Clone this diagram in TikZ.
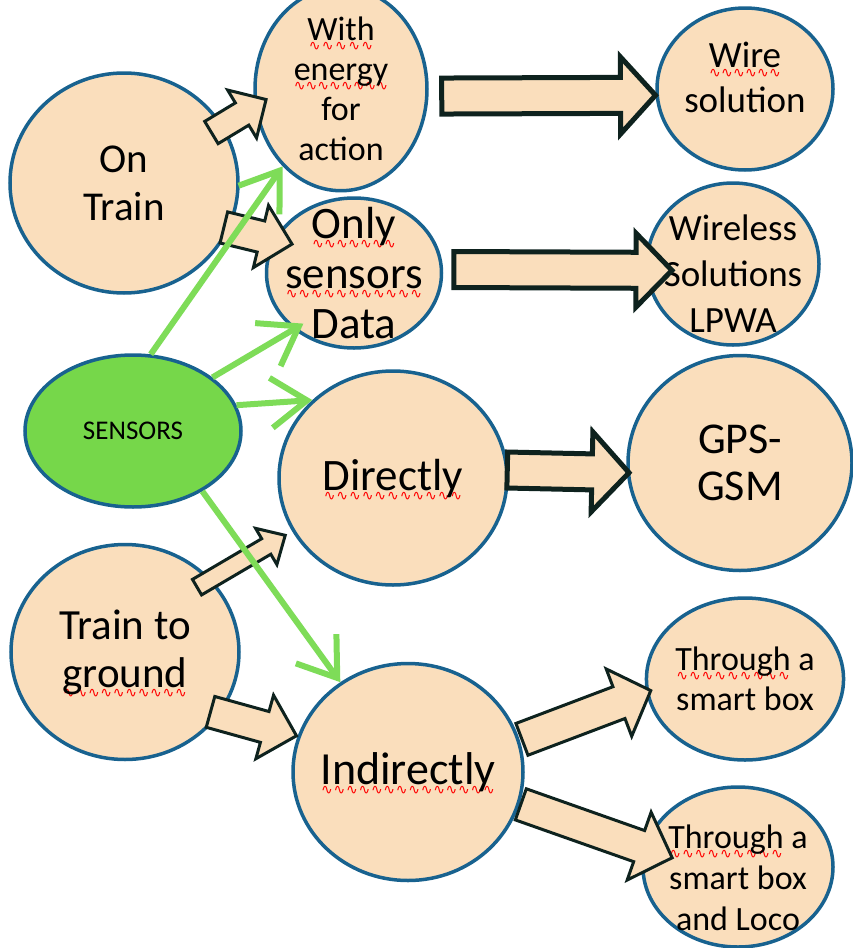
\documentclass[tikz,border=0pt]{standalone}
\usepackage{fontspec}
\setmainfont{Carlito}
\newfontfamily\wavefont{DejaVu Sans}
\usetikzlibrary{shapes.geometric, calc, arrows.meta}

\definecolor{peach}{RGB}{250,222,188}
\definecolor{rim}{RGB}{24,98,143}
\definecolor{leaf}{RGB}{118,215,74}
\definecolor{lime}{RGB}{126,220,88}
\definecolor{ink}{RGB}{14,34,30}

\tikzstyle{bubble}=[ellipse, draw=rim, line width=3.5pt, fill=peach, inner sep=0pt, align=center]
\tikzstyle{source}=[bubble, fill=leaf]
\tikzstyle{caption}=[inner sep=0pt, align=center]
\tikzstyle{feed}=[-{Straight Barb[length=36pt,width=50pt]}, draw=lime, line width=6pt]
\tikzstyle{blockarrow}=[draw=ink, fill=peach, line width=3pt, line join=miter]
\tikzstyle{widearrow}=[line width=5pt]

% red spell-check squiggle
\newcommand{\typo}[1]{\setbox0=\hbox{#1}\rlap{\raisebox{-10pt}[0pt][0pt]{\color{red}\wavefont\fontsize{14}{14}\selectfont\hbox to\wd0{\xleaders\hbox{∿}\hfil}}}\box0\relax}

% [style]{tail}{tip}{shaft}{head}{head length}
\newcommand{\blockarrow}[6][]{%
  \coordinate (ba-t) at (#2);
  \coordinate (ba-p) at (#3);
  \coordinate (ba-b) at ($(ba-p)!#6!(ba-t)$);
  \draw[blockarrow,#1] ($(ba-t)!#4/2!90:(ba-p)$) -- ($(ba-b)!#4/2!90:(ba-p)$)
    -- ($(ba-b)!#5/2!90:(ba-p)$) -- (ba-p) -- ($(ba-b)!#5/2!-90:(ba-p)$)
    -- ($(ba-b)!#4/2!-90:(ba-p)$) -- ($(ba-t)!#4/2!-90:(ba-p)$) -- cycle;
}

\begin{document}
\begin{tikzpicture}[x=1pt, y=-1pt]
  \useasboundingbox (0,0) rectangle (853,948);

  \node[bubble, minimum width=228pt, minimum height=220pt, font=\fontsize{41}{48}\selectfont] (onTrain) at (124,183) {On\\Train};
  \node[bubble, minimum width=172pt, minimum height=162pt, font=\fontsize{34}{40}\selectfont] (energy) at (341,89) {\typo{With}\\\typo{energy}\\for\\action};
  \node[bubble, minimum width=175pt, minimum height=150pt] (sensData) at (354,273) {};
  \node[caption, font=\fontsize{45}{50}\selectfont] (sensDataText) at (sensData) {\typo{Only}\\\typo{sensors}\\Data};
  \node[bubble, minimum width=176pt, minimum height=162pt] (wire) at (745,89) {};
  \node[caption, font=\fontsize{37}{45}\selectfont] (wireText) at ($(wire)+(0,-12)$) {\typo{Wire}\\solution};
  \node[bubble, minimum width=172pt, minimum height=162pt] (wireless) at (733,264) {};
  \node[caption, font=\fontsize{37}{46}\selectfont] (wirelessText) at ($(wireless)+(0,10)$) {Wireless\\Solutions\\LPWA};
  \node[source, minimum width=216pt, minimum height=152pt, font=\fontsize{27}{32}\selectfont] (sensors) at (133,431) {SENSORS};
  \node[bubble, minimum width=228pt, minimum height=214pt, font=\fontsize{45}{52}\selectfont] (directly) at (393,478) {\typo{Directly}};
  \node[bubble, minimum width=224pt, minimum height=215pt, font=\fontsize{44}{47}\selectfont] (gps) at (740,463) {GPS-\\GSM};
  \node[bubble, minimum width=228pt, minimum height=215pt, font=\fontsize{43}{48}\selectfont] (ground) at (125,652) {Train to\\\typo{ground}};
  \node[bubble, minimum width=230pt, minimum height=217pt] (indirectly) at (408,772) {};
  \node[caption, font=\fontsize{46}{52}\selectfont] (indirectlyText) at (indirectly) {\typo{Indirectly}};
  \node[bubble, minimum width=176pt, minimum height=162pt, font=\fontsize{34}{40}\selectfont] (smartBox) at (745,679) {\typo{Through} a\\smart box};
  \node[bubble, minimum width=190pt, minimum height=160pt] (smartLoco) at (738,867) {};
  \node[caption, font=\fontsize{34}{41}\selectfont] (smartLocoText) at ($(smartLoco)+(0,11)$) {\typo{Through} a\\smart box\\and Loco};

  \blockarrow{$(onTrain)!.88!(onTrain.30)$}{$(energy)!.86!(energy.188)$}{26pt}{56pt}{28pt}
  \blockarrow{$(onTrain)!.95!(onTrain.-24)$}{$(sensData)!.79!(sensData.155)$}{32pt}{64pt}{32pt}
  \blockarrow[widearrow]{$(energy)!1.15!(energy.-4)$}{wire.184}{36pt}{77pt}{35pt}
  \blockarrow[widearrow]{$(sensData)!1.12!(sensData.2)$}{$(wireless)!.70!(wireless.186)$}{36pt}{74pt}{36pt}
  \blockarrow[widearrow]{$(directly)!.99!(directly.4)$}{$(gps)!.98!(gps.185)$}{36pt}{80pt}{37pt}
  \blockarrow{$(ground)!.86!(ground.42)$}{$(directly)!1.07!(directly.208)$}{18pt}{42pt}{22pt}
  \blockarrow{$(ground)!.92!(ground.-35)$}{$(indirectly)!1.01!(indirectly.162)$}{32pt}{66pt}{33pt}
  \blockarrow{$(indirectly)!1.02!(indirectly.16)$}{$(smartBox)!.95!(smartBox.187)$}{34pt}{72pt}{34pt}
  \blockarrow{$(indirectly)!1.01!(indirectly.-16)$}{$(smartLoco)!.69!(smartLoco.172)$}{33pt}{72pt}{35pt}

  \draw[feed] (sensors.77) -- (energy.233);
  \draw[feed] (sensors.34) -- ($(sensData)!.87!(sensData.225)$);
  \draw[feed] (sensors.14) -- (directly.136);
  \draw[feed] (sensors.-41) -- (indirectly.127);

\end{tikzpicture}
\end{document}
